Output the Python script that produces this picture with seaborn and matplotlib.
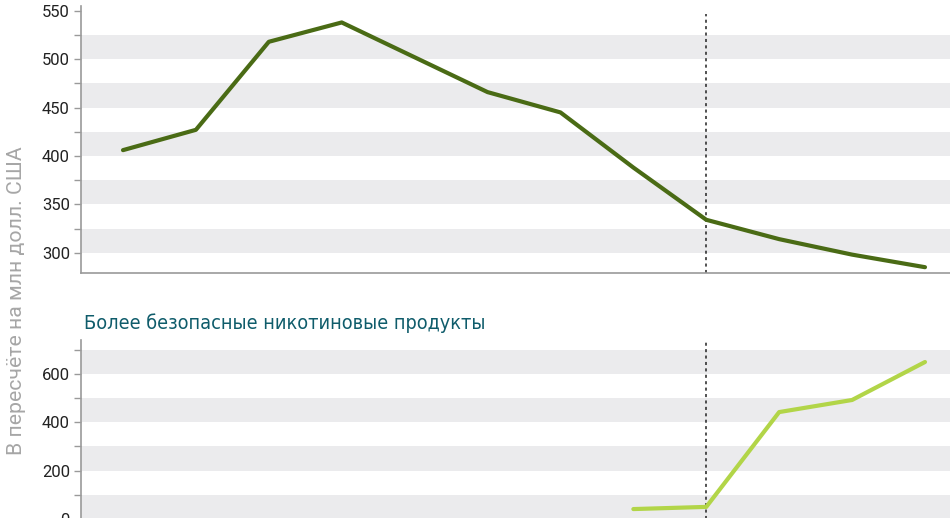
import matplotlib
matplotlib.use('Agg')
import matplotlib.pyplot as plt
import numpy as np
import pandas as pd
import seaborn as sns

# data (x axis labels are cropped out of the reference)
periods = list(range(12))
cigarettes = [406, 427, 518, 538, 502, 466, 445, 388, 334, 314, 298, 285]
safer_products = [np.nan] * 7 + [41, 50, 442, 492, 649]
forecast_start = 8

title_bottom = 'Более безопасные никотиновые продукты'
ylabel = 'В пересчёте на млн долл. США'

df = pd.DataFrame({'period': periods, 'cig': cigarettes, 'safe': safer_products})

sns.set_style('white')
plt.rcParams['font.family'] = ['Roboto', 'DejaVu Sans']

fig = plt.figure(figsize=(9.5, 5.18), dpi=100)
ax1 = fig.add_axes([81 / 950, (518 - 273) / 518, 869 / 950, 267 / 518])
ax2 = fig.add_axes([81 / 950, (518 - 533.5) / 518, 869 / 950, 193.5 / 518])

xlim = (-0.576, 11.343)
band = '#ebebed'
spine_c = '#9a9a9a'

# top panel
for lo in range(300, 501, 50):
    ax1.axhspan(lo, lo + 25, color=band, lw=0, zorder=0)
sns.lineplot(data=df, x='period', y='cig', ax=ax1, color='#4a6b15', lw=3.0,
             solid_capstyle='round', zorder=3)
ax1.axvline(forecast_start, ymax=0.97, color='#222222', lw=1.1, ls=(0, (2, 2.2)), zorder=2)
ax1.set_ylim(279, 555)
ax1.set_yticks(range(300, 551, 50))
ax1.set_yticks(range(300, 551, 25), minor=True)

# bottom panel
for lo in range(0, 701, 200):
    ax2.axhspan(lo, lo + 100, color=band, lw=0, zorder=0)
sns.lineplot(data=df, x='period', y='safe', ax=ax2, color='#b2d548', lw=3.0,
             solid_capstyle='round', zorder=3)
ax2.axvline(forecast_start, ymax=0.99, color='#222222', lw=1.1, ls=(0, (2, 2.2)), zorder=2)
ax2.set_ylim(-60, 740)
ax2.set_yticks(range(0, 601, 200))
ax2.set_yticks(range(0, 701, 100), minor=True)

for ax in (ax1, ax2):
    ax.set_xlim(*xlim)
    ax.set_xticks([])
    ax.set_xlabel('')
    ax.set_ylabel('')
    for s in ('top', 'right'):
        ax.spines[s].set_visible(False)
    ax.spines['left'].set_color(spine_c)
    ax.spines['bottom'].set_color(spine_c)
    ax.spines['left'].set_linewidth(1.2)
    ax.spines['bottom'].set_linewidth(1.2)
    ax.tick_params(axis='y', which='both', direction='out', left=True, color=spine_c,
                   labelsize=12, labelcolor='#222222', pad=3)
    ax.tick_params(axis='y', which='major', length=5, width=1)
    ax.tick_params(axis='y', which='minor', length=5, width=1)

fig.text(84 / 950, 1 - 323 / 518, title_bottom, color='#0f5c6b', fontsize=14.2,
         family=['DejaVu Sans'], fontstretch='condensed', va='center', ha='left')
fig.text(17 / 950, 1 - 301 / 518, ylabel, rotation=90, color='#a6a6a6', fontsize=15.3,
         va='center', ha='center')

fig.savefig('out.png', dpi=100)
